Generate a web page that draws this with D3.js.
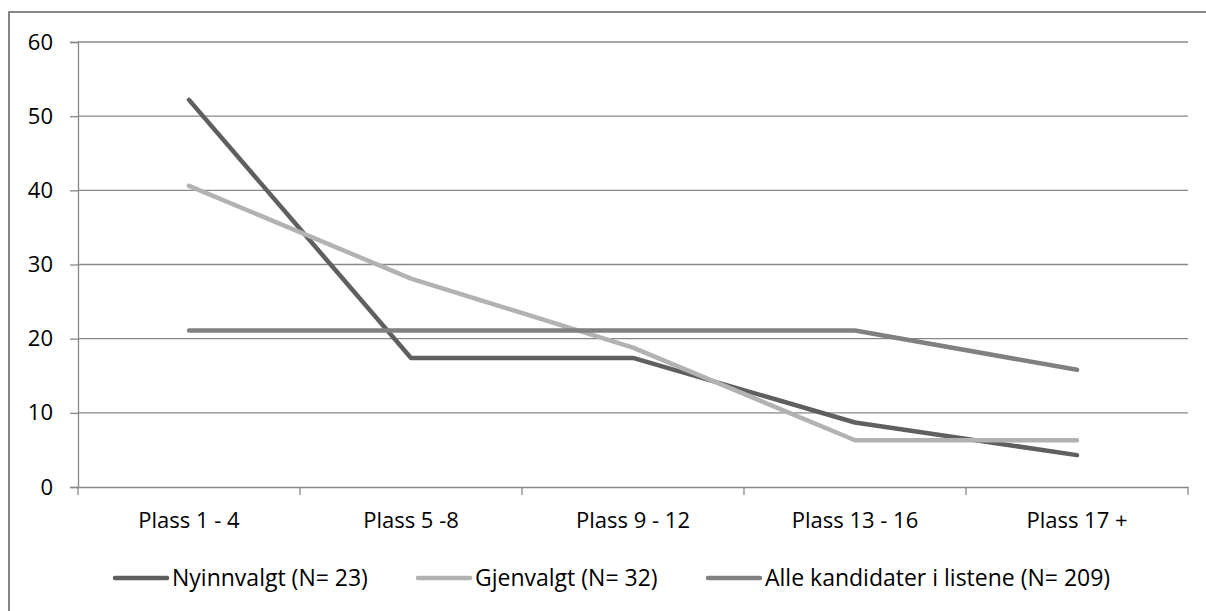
<!DOCTYPE html>
<html>
<head>
<meta charset="utf-8">
<script src="https://cdn.jsdelivr.net/npm/d3@7"></script>
<style>
  html, body { margin: 0; padding: 0; background: #fff; }
  svg { display: block; }
  text { font-family: "Open Sans", "Noto Sans", sans-serif; fill: #000; }
</style>
</head>
<body>
<svg id="chart" width="1206" height="611"></svg>
<script>
const categories = ["Plass 1 - 4", "Plass 5 -8", "Plass 9 - 12", "Plass 13 - 16", "Plass 17 +"];
const seriesNames = ["Nyinnvalgt (N= 23)", "Gjenvalgt (N= 32)", "Alle kandidater i listene (N= 209)"];
const nyinnvalgt = [52.2, 17.4, 17.4, 8.7, 4.3];
const gjenvalgt = [40.6, 28.1, 18.8, 6.3, 6.3];
const alle = [21.1, 21.1, 21.1, 21.1, 15.8];
const yTicks = [0, 10, 20, 30, 40, 50, 60];
const colors = ["#5f5f5f", "#b2b2b2", "#808080"];

const series = [nyinnvalgt, gjenvalgt, alle];
const FS = 22;

const svg = d3.select("#chart");
const mLeft = 78, mRight = 1188, mTop = 42, mBottom = 487;

// outer border
svg.append("rect").attr("x", 9).attr("y", 12).attr("width", 1250).attr("height", 650)
  .attr("fill", "none").attr("stroke", "#868686").attr("stroke-width", 2);

const x = d3.scaleBand().domain(categories).range([mLeft, mRight]);
const y = d3.scaleLinear().domain([0, 60]).range([mBottom, mTop]);

// gridlines
svg.append("g").selectAll("line").data(yTicks.filter(d => d > 0)).join("line")
  .attr("x1", mLeft).attr("x2", mRight)
  .attr("y1", d => y(d)).attr("y2", d => y(d))
  .attr("stroke", "#888").attr("stroke-width", 1.3);

// y axis
const yAxis = svg.append("g").attr("transform", `translate(${mLeft},0)`)
  .call(d3.axisLeft(y).tickValues(yTicks).tickSize(8).tickPadding(17).tickFormat(d3.format("d")));
yAxis.select(".domain").attr("stroke", "#888").attr("stroke-width", 1.3);
yAxis.selectAll(".tick line").attr("stroke", "#888").attr("stroke-width", 1.3);
yAxis.selectAll(".tick text").attr("font-size", FS).attr("font-family", "'Open Sans', sans-serif").attr("fill", "#000");

// x axis
const xAxis = svg.append("g").attr("transform", `translate(0,${mBottom})`)
  .call(d3.axisBottom(x).tickSize(0).tickPadding(25));
xAxis.select(".domain").attr("stroke", "#888").attr("stroke-width", 1.3);
xAxis.selectAll(".tick text").attr("font-size", FS).attr("font-family", "'Open Sans', sans-serif").attr("fill", "#000");
// boundary tick marks
const bounds = categories.map(c => x(c)).concat([x(categories[categories.length - 1]) + x.bandwidth()]);
svg.append("g").selectAll("line").data(bounds).join("line")
  .attr("x1", d => d).attr("x2", d => d).attr("y1", mBottom).attr("y2", mBottom + 8)
  .attr("stroke", "#888").attr("stroke-width", 1.3);

// lines
const line = d3.line().x((d, i) => x(categories[i]) + x.bandwidth() / 2).y(d => y(d));
svg.append("g").selectAll("path").data(series).join("path")
  .attr("d", d => line(d))
  .attr("fill", "none")
  .attr("stroke", (d, i) => colors[i])
  .attr("stroke-width", 4.5)
  .attr("stroke-linecap", "round")
  .attr("stroke-linejoin", "round");

// legend
const legendX = [115, 418, 708];
const ly = 578;
const lg = svg.append("g").selectAll("g").data(seriesNames).join("g")
  .attr("transform", (d, i) => `translate(${legendX[i]},${ly})`);
lg.append("line").attr("x1", 0).attr("x2", 52).attr("y1", 0).attr("y2", 0)
  .attr("stroke", (d, i) => colors[i]).attr("stroke-width", 4.5).attr("stroke-linecap", "round");
lg.append("text").attr("x", 57).attr("y", 0).attr("dy", "0.35em")
  .attr("font-size", 23).text(d => d);
</script>
</body>
</html>
